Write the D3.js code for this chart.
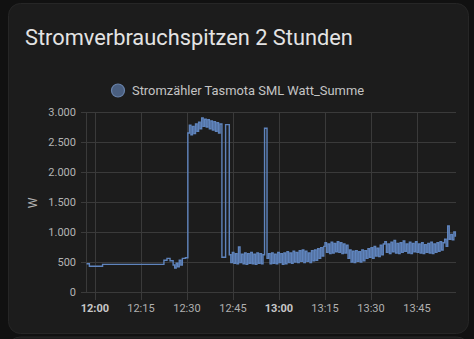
<!DOCTYPE html>
<html><head><meta charset="utf-8">
<script src="https://cdn.jsdelivr.net/npm/d3@7"></script>
<style>
html,body{margin:0;padding:0;background:#111111;}
svg{display:block;font-family:Roboto,"Noto Sans",sans-serif;}
</style></head>
<body><svg id="c" width="474" height="339"></svg>
<script>
const title = "Stromverbrauchspitzen 2 Stunden";
const seriesName = "Stromzähler Tasmota SML Watt_Summe";
const yLabel = "W";
const yTicks = [0, 500, 1000, 1500, 2000, 2500, 3000];
const xTickLabels = ["12:00","12:15","12:30","12:45","13:00","13:15","13:30","13:45"];
// minutes after 12:00
const minutes = [
 -2.7,-1.8,2.5,22.5,23.5,24.5,25.5,26.0,26.5,27.0,27.5,28.0,28.5,29.5,
 30.3,30.8,31.3,31.8,32.3,32.8,33.3,33.8,34.3,34.8,35.3,35.8,36.3,36.8,37.3,37.8,38.3,38.8,39.3,39.8,40.3,40.8,
 41.4,42.6,
 43.8,44.3,44.8,45.3,45.8,46.3,46.8,47.3,47.8,48.3,48.8,49.3,49.8,50.3,50.8,51.3,51.8,52.3,52.8,53.3,53.8,54.3,54.8,
 55.3,
 56.1,56.6,57.1,57.6,58.1,58.6,59.1,59.6,60.1,60.6,61.1,61.6,62.1,62.6,63.1,63.6,64.1,64.6,65.1,65.6,66.1,66.6,67.1,67.6,68.1,68.6,69.1,69.6,70.1,70.6,71.1,71.6,72.1,72.6,73.1,73.6,74.1,74.6,
 75.0,75.5,76.0,76.5,77.0,77.5,78.0,78.5,79.0,79.5,80.0,80.5,81.0,81.5,82.0,
 82.5,83.0,83.5,84.0,84.5,85.0,85.5,86.0,86.5,87.0,87.5,88.0,88.5,
 89.0,89.5,90.0,90.5,91.0,91.5,92.0,92.5,93.0,93.5,94.0,
 94.5,95.0,95.5,96.0,96.5,97.0,97.5,98.0,98.5,99.0,99.5,100.0,100.5,101.0,101.5,102.0,102.5,103.0,103.5,104.0,104.5,105.0,105.5,106.0,106.5,107.0,107.5,108.0,108.5,109.0,109.5,110.0,110.5,111.0,111.5,112.0,112.5,113.0,113.5,
 114.0,114.5,115.0,115.5,116.0,116.5,117.0,117.5
];
const watts = [
 470,430,460,530,560,520,450,400,480,420,530,450,560,570,
 2650,2780,2620,2760,2640,2800,2680,2830,2720,2900,2760,2880,2750,2870,2720,2850,2700,2840,2680,2820,2650,2800,
 580,2790,
 620,490,660,480,640,470,750,490,630,470,650,460,640,480,660,470,630,460,650,480,640,470,620,
 2730,
 560,640,470,650,480,630,470,660,490,640,460,650,470,670,490,650,480,680,500,660,490,690,510,700,490,680,510,650,490,690,520,700,530,720,560,740,600,760,
 820,660,800,640,830,650,810,670,840,660,820,640,800,650,780,
 560,700,500,680,490,690,510,670,500,700,520,690,560,
 720,580,740,560,760,600,730,590,780,620,800,
 840,660,800,640,830,670,860,650,810,640,820,660,850,680,800,650,830,640,810,670,840,660,800,650,820,640,790,660,810,650,830,640,800,660,820,680,840,700,820,
 880,760,1100,880,960,870,1000,920
];

const base = new Date(2023, 0, 1, 12, 0, 0);
const toDate = m => new Date(base.getTime() + m * 60000);
const data = minutes.map((m, i) => ({t: toDate(m), v: watts[i]}));

const svg = d3.select("#c");
// card
svg.append("rect").attr("x", 8.5).attr("y", 3.5).attr("width", 460).attr("height", 330)
  .attr("rx", 12).attr("fill", "#1c1c1c").attr("stroke", "#262626");
svg.append("rect").attr("x", 8.5).attr("y", 337).attr("width", 460).attr("height", 20)
  .attr("rx", 12).attr("fill", "#1c1c1c").attr("stroke", "#262626");

svg.append("text").attr("x", 25).attr("y", 45).attr("fill", "#e3e3e3")
  .style("font-size", "21.8px").text(title);

// legend
svg.append("circle").attr("cx", 118).attr("cy", 90.5).attr("r", 6.5)
  .attr("fill", "#4a5f80").attr("stroke", "#6882aa").attr("stroke-width", 1.2);
svg.append("text").attr("x", 132).attr("y", 95).attr("fill", "#c4c4c4")
  .style("font-size", "12.9px").text(seriesName);

const x = d3.scaleTime().domain([toDate(-2.9), toDate(117.7)]).range([86, 456]);
const y = d3.scaleLinear().domain([0, 3000]).range([292, 112]);

const grid = "#3a3a3a";
const fmtY = d => d3.format(",")(d).replace(/,/g, ".");
// horizontal grid + y labels
yTicks.forEach(v => {
  svg.append("line").attr("x1", 81).attr("x2", 456).attr("y1", Math.round(y(v)) + 0.5).attr("y2", Math.round(y(v)) + 0.5)
    .attr("stroke", grid).attr("stroke-width", 1);
  svg.append("text").attr("x", 76).attr("y", y(v) + 4).attr("text-anchor", "end")
    .attr("fill", "#b4b4b4").style("font-size", "11px").text(fmtY(v));
});
// left border line
svg.append("line").attr("x1", 86.5).attr("x2", 86.5).attr("y1", 112).attr("y2", 292).attr("stroke", grid);

// vertical grid via time ticks
const ticks = x.ticks(d3.timeMinute.every(15));
ticks.forEach((t, i) => {
  const px = Math.round(x(t)) + 0.5;
  svg.append("line").attr("x1", px).attr("x2", px).attr("y1", 112).attr("y2", 300)
    .attr("stroke", grid);
  const lbl = xTickLabels[i] !== undefined ? xTickLabels[i] : d3.timeFormat("%H:%M")(t);
  svg.append("text").attr("x", x(t)).attr("y", 312).attr("text-anchor", "middle")
    .attr("fill", t.getMinutes() === 0 ? "#c8c8c8" : "#b0b0b0")
    .style("font-size", "11px").style("font-weight", t.getMinutes() === 0 ? "700" : "400")
    .text(lbl);
});

// y axis title
svg.append("text").attr("transform", "translate(37,203) rotate(-90)").attr("text-anchor", "middle")
  .attr("fill", "#b4b4b4").style("font-size", "12px").text(yLabel);

// line
const line = d3.line().x(d => x(d.t)).y(d => y(d.v)).curve(d3.curveStepAfter);
svg.append("path").datum(data).attr("d", line).attr("fill", "none")
  .attr("stroke", "#5f84bd").attr("stroke-width", 1.4).attr("stroke-linejoin", "miter");
</script></body></html>
